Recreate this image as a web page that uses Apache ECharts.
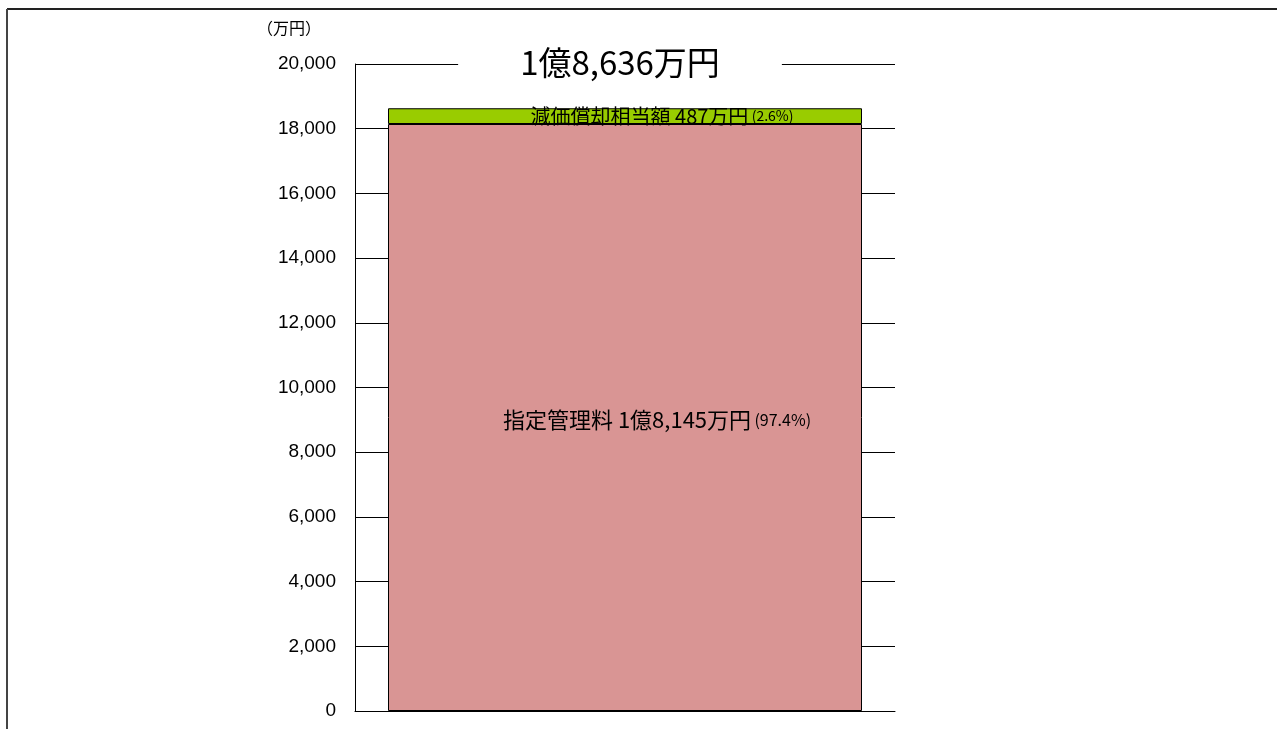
<!DOCTYPE html>
<html>
<head>
<meta charset="utf-8">
<script src="https://cdn.jsdelivr.net/npm/echarts@6/dist/echarts.min.js"></script>
<style>
html,body{margin:0;padding:0;background:#fff;}
#main{width:1277px;height:729px;}
</style>
</head>
<body>
<div id="main"></div>
<script>
const categories = [''];
const feeValues = [18145];
const depreciationValues = [487];
const seriesNames = ['指定管理料', '減価償却相当額'];
const feeLabel = ['指定管理料 1億8,145万円', '(97.4%)'];
const depLabel = ['減価償却相当額 487万円', '(2.6%)'];
const totalLabel = '1億8,636万円';
const unitLabel = '（万円）';

const chart = echarts.init(document.getElementById('main'));
const jp = '"Noto Sans CJK JP", "Noto Sans", sans-serif';
chart.setOption({
  animation: false,
  backgroundColor: '#fff',
  grid: {left: 355, right: 382, top: 64, bottom: 18, containLabel: false},
  xAxis: {
    type: 'category', data: categories,
    axisLine: {show: true, lineStyle: {color: '#000', width: 1}},
    axisTick: {show: false}, axisLabel: {show: false}
  },
  yAxis: {
    type: 'value', min: 0, max: 20000, interval: 2000,
    name: unitLabel, nameLocation: 'end', nameGap: 36,
    nameTextStyle: {fontFamily: jp, fontSize: 16, color: '#000', align: 'right', verticalAlign: 'middle', padding: [0, 34, 0, 0]},
    axisLine: {show: true, lineStyle: {color: '#000', width: 1}},
    axisTick: {show: false},
    axisLabel: {margin: 19, fontFamily: '"Liberation Sans", Arial, sans-serif', fontSize: 19, color: '#000'},
    splitLine: {show: true, lineStyle: {color: '#000', width: 1}}
  },
  series: [
    {
      name: seriesNames[0], type: 'bar', stack: 'total', data: feeValues, barWidth: 474,
      itemStyle: {color: '#D99594', borderColor: '#000', borderWidth: 1},
      label: {
        show: true, position: 'inside', offset: [32, 2],
        formatter: '{a|' + feeLabel[0] + '} {b|' + feeLabel[1] + '}',
        rich: {
          a: {fontFamily: jp, fontSize: 22, color: '#000'},
          b: {fontFamily: jp, fontSize: 16, color: '#000'}
        }
      }
    },
    {
      name: seriesNames[1], type: 'bar', stack: 'total', data: depreciationValues, barWidth: 474,
      itemStyle: {color: '#99CC00', borderColor: '#000', borderWidth: 1},
      label: {
        show: true, position: 'inside', offset: [37, 0],
        formatter: '{a|' + depLabel[0] + '} {b|' + depLabel[1] + '}',
        rich: {
          a: {fontFamily: jp, fontSize: 20, color: '#000'},
          b: {fontFamily: jp, fontSize: 14, color: '#000'}
        }
      }
    }
  ],
  graphic: [
    {type: 'line', shape: {x1: 7, y1: 9, x2: 1277, y2: 9}, style: {stroke: '#222', lineWidth: 2}, z: 100},
    {type: 'line', shape: {x1: 7, y1: 9, x2: 7, y2: 729}, style: {stroke: '#444', lineWidth: 2}, z: 100},
    {
      type: 'text', x: 620, y: 62, z: 100,
      style: {
        text: totalLabel, fontFamily: jp, fontSize: 33, fill: '#000',
        align: 'center', verticalAlign: 'middle',
        backgroundColor: '#fff', padding: [4, 62, 4, 62]
      }
    }
  ]
});
</script>
</body>
</html>
